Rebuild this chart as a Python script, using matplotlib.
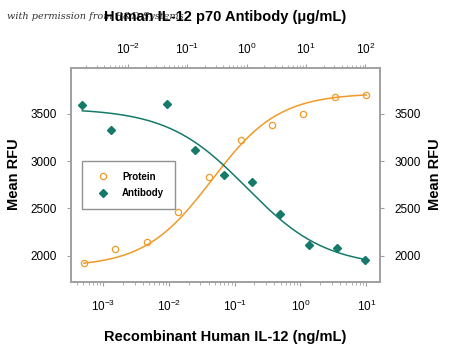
import numpy as np
import matplotlib
matplotlib.use("Agg")
import matplotlib.pyplot as plt
from matplotlib.lines import Line2D

plt.rcParams['font.family'] = ['Liberation Sans', 'DejaVu Sans']
plt.rcParams['mathtext.fontset'] = 'custom'
plt.rcParams['mathtext.rm'] = 'Liberation Sans'

# Protein: recombinant human IL-12 (ng/mL) -> bottom axis
protein_conc = [0.000508, 0.00152, 0.00457, 0.0137, 0.0412, 0.123, 0.370, 1.11, 3.33, 10.0]
protein_rfu = [1920, 2075, 2140, 2460, 2830, 3220, 3385, 3500, 3680, 3705]
# Antibody: human IL-12 p70 antibody (ug/mL) -> top axis
antibody_conc = [0.0017, 0.0051, 0.0457, 0.137, 0.412, 1.23, 3.70, 11.1, 33.3, 100.0]
antibody_rfu = [3595, 3330, 3605, 3115, 2850, 2780, 2440, 2110, 2085, 1955]

# 4PL fit parameters: bottom, top, log10 EC50, hill
protein_fit = (1880, 3720, -1.35, 0.85)
antibody_fit = (1880, 3560, 0.0, 0.65)

orange = '#f09a28'
teal = '#157a6a'
frame = '#a0a0a0'


def four_pl(logx, fit, rising=True):
    bottom, top, logec, hill = fit
    if rising:
        return bottom + (top - bottom) / (1 + 10 ** ((logec - logx) * hill))
    return bottom + (top - bottom) / (1 + 10 ** ((logx - logec) * hill))


fig = plt.figure(figsize=(4.5, 3.49), dpi=100)
ax = fig.add_axes([0.158, 0.193, 0.687, 0.613])
ax.set_xscale('log')
ax.set_xlim(10 ** -3.487, 10 ** 1.213)
ax.set_ylim(1725, 3990)

lx = np.linspace(np.log10(protein_conc[0]), np.log10(protein_conc[-1]), 200)
ax.plot(10 ** lx, four_pl(lx, protein_fit), color=orange, lw=1.1)
ax.plot(protein_conc, protein_rfu, 'o', ms=4.5, mfc='none', mec=orange, mew=0.9)

ax2 = ax.twiny()
ax2.set_xscale('log')
ax2.set_xlim(10 ** -2.958, 10 ** 2.252)
la = np.linspace(np.log10(antibody_conc[0]), np.log10(antibody_conc[-1]), 200)
ax2.plot(10 ** la, four_pl(la, antibody_fit, rising=False), color=teal, lw=1.1)
ax2.plot(antibody_conc, antibody_rfu, 'D', ms=4.5, color=teal)

ax.set_yticks([2000, 2500, 3000, 3500])
ax.tick_params(axis='y', which='both', left=True, right=True,
               labelleft=True, labelright=True, direction='out',
               length=3, color=frame, labelsize=8.5, pad=7)
for a, p in ((ax, 9), (ax2, 5)):
    a.tick_params(axis='x', which='major', direction='out', length=3,
                  color=frame, labelsize=8.5, pad=p)
    a.tick_params(axis='x', which='minor', direction='out', length=2,
                  color=frame)
    for s in a.spines.values():
        s.set_color(frame)
        s.set_linewidth(1.2)

fig.text(0.015, 0.945, 'with permission from R&D Systems', fontsize=7,
         family='DejaVu Serif', style='italic', color='#333333', zorder=0)
fig.text(0.50, 0.951, 'Human IL-12 p70 Antibody (\u03bcg/mL)', fontsize=10.5,
         fontweight='bold', ha='center', va='center')
fig.text(0.50, 0.034, 'Recombinant Human IL-12 (ng/mL)', fontsize=10.5,
         fontweight='bold', ha='center', va='center')
fig.text(0.031, 0.5, 'Mean RFU', rotation=90, ha='center', va='center',
         fontsize=10.5, fontweight='bold')
fig.text(0.967, 0.5, 'Mean RFU', rotation=90, ha='center', va='center',
         fontsize=10.5, fontweight='bold')

handles = [Line2D([], [], ls='none', marker='o', ms=4.5, mfc='none',
                  mec=orange, mew=0.9),
           Line2D([], [], ls='none', marker='D', ms=4.5, color=teal)]
leg = ax2.legend(handles, ['Protein', 'Antibody'], loc='upper left',
                 bbox_to_anchor=(0.036, 0.564), borderaxespad=0,
                 fontsize=7, frameon=True, fancybox=False,
                 borderpad=1.1, labelspacing=0.7, handletextpad=1.0,
                 handlelength=2.0)
leg.get_frame().set_edgecolor('#777777')
leg.get_frame().set_linewidth(1.0)
for t in leg.get_texts():
    t.set_fontweight('bold')

fig.savefig('out.png', dpi=100)
